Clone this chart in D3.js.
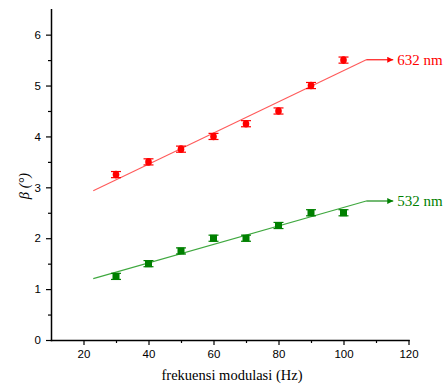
<!DOCTYPE html>
<html><head><meta charset="utf-8">
<script src="https://cdnjs.cloudflare.com/ajax/libs/d3/7.8.5/d3.min.js"></script>
<style>body{margin:0;background:#fff}svg{display:block}</style>
</head><body><svg id="c" width="444" height="392"></svg>
<script>
const freq = [30, 40, 50, 60, 70, 80, 90, 100];
const beta632 = [3.25, 3.5, 3.75, 4.0, 4.25, 4.5, 5.0, 5.5];
const beta532 = [1.25, 1.5, 1.75, 2.0, 2.0, 2.25, 2.5, 2.5];
const err632 = [0.06, 0.06, 0.06, 0.06, 0.06, 0.06, 0.06, 0.06];
const err532 = [0.06, 0.06, 0.06, 0.06, 0.06, 0.06, 0.06, 0.06];
const fitRange = [23, 107];
const xTicks = [20, 40, 60, 80, 100, 120];
const xMinor = [30, 50, 70, 90, 110];
const yTicks = [0, 1, 2, 3, 4, 5, 6];
const yMinor = [0.5, 1.5, 2.5, 3.5, 4.5, 5.5];

const SANS = "'Liberation Sans', Arimo, Arial, sans-serif";
const SERIF = "'Liberation Serif', Tinos, 'Times New Roman', 'DejaVu Serif', serif";

const svg = d3.select("#c");
const x = d3.scaleLinear().domain([10, 120]).range([51, 408.5]);
const y = d3.scaleLinear().domain([0, 6.5]).range([340, 9.2]);

function fit(xs, ys) {
  const n = xs.length, mx = d3.mean(xs), my = d3.mean(ys);
  let sxy = 0, sxx = 0;
  for (let i = 0; i < n; i++) { sxy += (xs[i]-mx)*(ys[i]-my); sxx += (xs[i]-mx)**2; }
  const b = sxy/sxx, a = my - b*mx;
  return v => a + b*v;
}

svg.append("g").attr("transform", `translate(0,${y(0)})`)
  .call(d3.axisBottom(x).tickValues(xTicks).tickFormat(d3.format("d")).tickSize(5).tickSizeOuter(0).tickPadding(5));
svg.append("g").attr("transform", `translate(0,${y(0)})`)
  .call(d3.axisBottom(x).tickValues(xMinor).tickSize(3).tickFormat("").tickSizeOuter(0))
  .select(".domain").remove();
svg.append("g").attr("transform", `translate(${x(10)},0)`)
  .call(d3.axisLeft(y).tickValues(yTicks).tickFormat(d3.format("d")).tickSize(5).tickSizeOuter(0).tickPadding(5));
svg.append("g").attr("transform", `translate(${x(10)},0)`)
  .call(d3.axisLeft(y).tickValues(yMinor).tickSize(3).tickFormat("").tickSizeOuter(0))
  .select(".domain").remove();
svg.selectAll(".domain").attr("stroke", "#000").attr("stroke-width", 1.5).attr("stroke-linecap", "square");
svg.selectAll(".tick line").attr("stroke", "#000").attr("stroke-width", 1.2);
svg.selectAll(".tick text").style("font-family", SANS).style("font-size", "11.5px").attr("fill", "#000");

svg.append("text").attr("x", 232).attr("y", 380).attr("text-anchor", "middle")
  .style("font-family", SERIF).style("font-size", "14.5px").text("frekuensi modulasi (Hz)");
svg.append("text").attr("transform", "translate(29,186) rotate(-90)").attr("text-anchor", "middle")
  .style("font-family", SERIF).style("font-size", "14.5px").style("font-style", "italic").text("β (°)");

const defs = svg.append("defs");
function arrowMarker(id, color) {
  defs.append("marker").attr("id", id).attr("viewBox", "0 0 10 10").attr("refX", 10).attr("refY", 5)
    .attr("markerWidth", 9).attr("markerHeight", 6).attr("markerUnits", "userSpaceOnUse")
    .attr("orient", "auto").append("path").attr("d", "M0,0L10,5L0,10z").attr("fill", color);
}
arrowMarker("ar", "#ff0000");
arrowMarker("ag", "#008000");

function series(ys, errs, color, lineColor, shape, label, mid) {
  const f = fit(freq, ys);
  const g = svg.append("g");
  g.append("line").attr("x1", x(fitRange[0])).attr("y1", y(f(fitRange[0])))
    .attr("x2", x(fitRange[1])).attr("y2", y(f(fitRange[1])))
    .attr("stroke", lineColor).attr("stroke-width", 1.1);
  g.append("line").attr("x1", x(fitRange[1])).attr("y1", y(f(fitRange[1])))
    .attr("x2", x(fitRange[1]) + 27).attr("y2", y(f(fitRange[1])))
    .attr("stroke", color).attr("stroke-width", 1.1).attr("marker-end", `url(#${mid})`);
  g.append("text").attr("x", x(fitRange[1]) + 31).attr("y", y(f(fitRange[1])) + 5)
    .style("font-family", SERIF).style("font-size", "15px").attr("fill", color).text(label);
  freq.forEach((fv, i) => {
    const cx = x(fv), cy = y(ys[i]);
    const y1 = y(ys[i] + errs[i]), y2 = y(ys[i] - errs[i]);
    g.append("line").attr("x1", cx).attr("x2", cx).attr("y1", y1).attr("y2", y2).attr("stroke", color).attr("stroke-width", 1.2);
    [y1, y2].forEach(yy => g.append("line").attr("x1", cx - 5).attr("x2", cx + 5).attr("y1", yy).attr("y2", yy)
      .attr("stroke", color).attr("stroke-width", 1.2));
    if (shape === "circle") g.append("ellipse").attr("cx", cx).attr("cy", cy).attr("rx", 3.3).attr("ry", 3.8).attr("fill", color);
    else g.append("rect").attr("x", cx - 3.5).attr("y", cy - 3.5).attr("width", 7).attr("height", 7).attr("fill", color);
  });
}
series(beta632, err632, "#ff0000", "#ff5a5a", "circle", "632 nm", "ar");
series(beta532, err532, "#008000", "#3fa83f", "square", "532 nm", "ag");
</script></body></html>
